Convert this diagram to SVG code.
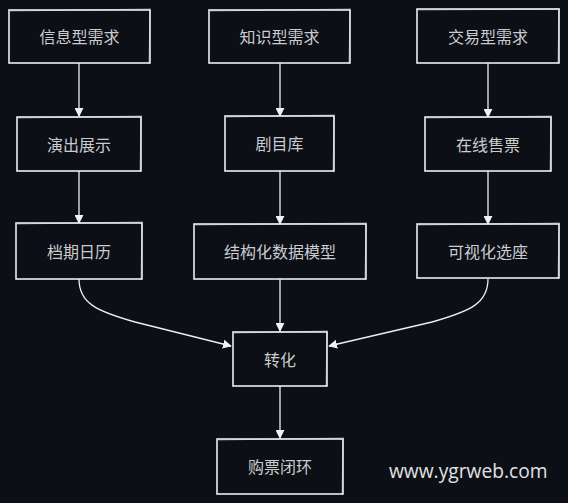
<svg xmlns="http://www.w3.org/2000/svg" width="568" height="503" viewBox="0 0 568 503">
<defs>
<marker id="ah" viewBox="0 0 10 10" refX="9" refY="5" markerWidth="9" markerHeight="9" markerUnits="userSpaceOnUse" orient="auto">
<path d="M0,0 L10,5 L0,10 Z" fill="#f2f2f2"/>
</marker>
</defs>
<style>
.box{fill:#0c0f16;stroke:#eeeeee;stroke-width:1.6}
.sk{fill:none;stroke:#ffffff;stroke-width:0.8;opacity:0.55}
.t{font-family:"Noto Sans CJK SC","Noto Sans",sans-serif;font-size:16px;fill:#cccccc;text-anchor:middle;dominant-baseline:central}
.c{fill:none;stroke:#eeeeee;stroke-width:1.3;marker-end:url(#ah)}
.wm{font-family:"Open Sans","Noto Sans",sans-serif;font-size:19.2px;fill:#e2e2e2}
</style>
<rect width="568" height="503" fill="#0c0f16"/>
<g id="connectors">
<path class="c" d="M79,63 L79,116"/>
<path class="c" d="M280,63 L280,116"/>
<path class="c" d="M488,63 L488,117"/>
<path class="c" d="M79,171 L79,223"/>
<path class="c" d="M280,171 L280,224"/>
<path class="c" d="M488,171 L488,224"/>
<path class="c" d="M79,279 C79,303 96,311 135,322 L231,346"/>
<path class="c" d="M488,279 C488,303 471,311 432,322 L329,346"/>
<path class="c" d="M280,279 L280,331"/>
<path class="c" d="M280,386 L280,438"/>
</g>
<g id="n1"><rect class="box" x="9" y="10" width="141" height="53"/><path class="sk" d="M10,11 L151,9 M150,10 L149,64"/><text class="t" x="79.5" y="36">信息型需求</text></g>
<g id="n2"><rect class="box" x="209" y="10" width="141" height="53"/><path class="sk" d="M210,11 L351,9 M350,10 L349,64"/><text class="t" x="279.5" y="36">知识型需求</text></g>
<g id="n3"><rect class="box" x="417" y="9" width="142" height="54"/><path class="sk" d="M418,10 L560,9 M559,10 L558,64"/><text class="t" x="488" y="35.5">交易型需求</text></g>
<g id="n4"><rect class="box" x="17" y="117" width="124" height="54"/><path class="sk" d="M18,118 L142,116 M141,117 L140,172"/><text class="t" x="79" y="143.5">演出展示</text></g>
<g id="n5"><rect class="box" x="225" y="116" width="109" height="55"/><path class="sk" d="M226,117 L335,115 M334,116 L333,172"/><text class="t" x="279.5" y="143">剧目库</text></g>
<g id="n6"><rect class="box" x="425" y="117" width="126" height="54"/><path class="sk" d="M426,118 L552,116 M551,117 L550,172"/><text class="t" x="488" y="143.5">在线售票</text></g>
<g id="n7"><rect class="box" x="16" y="223" width="126" height="56"/><path class="sk" d="M17,224 L143,222 M142,223 L141,280"/><text class="t" x="79" y="250.5">档期日历</text></g>
<g id="n8"><rect class="box" x="194" y="224" width="172" height="55"/><path class="sk" d="M195,225 L367,223 M366,224 L365,280"/><text class="t" x="280" y="251">结构化数据模型</text></g>
<g id="n9"><rect class="box" x="417" y="224" width="142" height="54"/><path class="sk" d="M418,225 L560,223 M559,224 L558,279"/><text class="t" x="488" y="250.5">可视化选座</text></g>
<g id="n10"><rect class="box" x="233" y="332" width="94" height="54"/><path class="sk" d="M234,333 L328,331 M327,332 L326,387"/><text class="t" x="280" y="358.5">转化</text></g>
<g id="n11"><rect class="box" x="217" y="439" width="126" height="55"/><path class="sk" d="M218,440 L344,438 M343,439 L342,495"/><text class="t" x="280" y="466">购票闭环</text></g>
<text class="wm" x="389" y="478">www.ygrweb.com</text>
</svg>
